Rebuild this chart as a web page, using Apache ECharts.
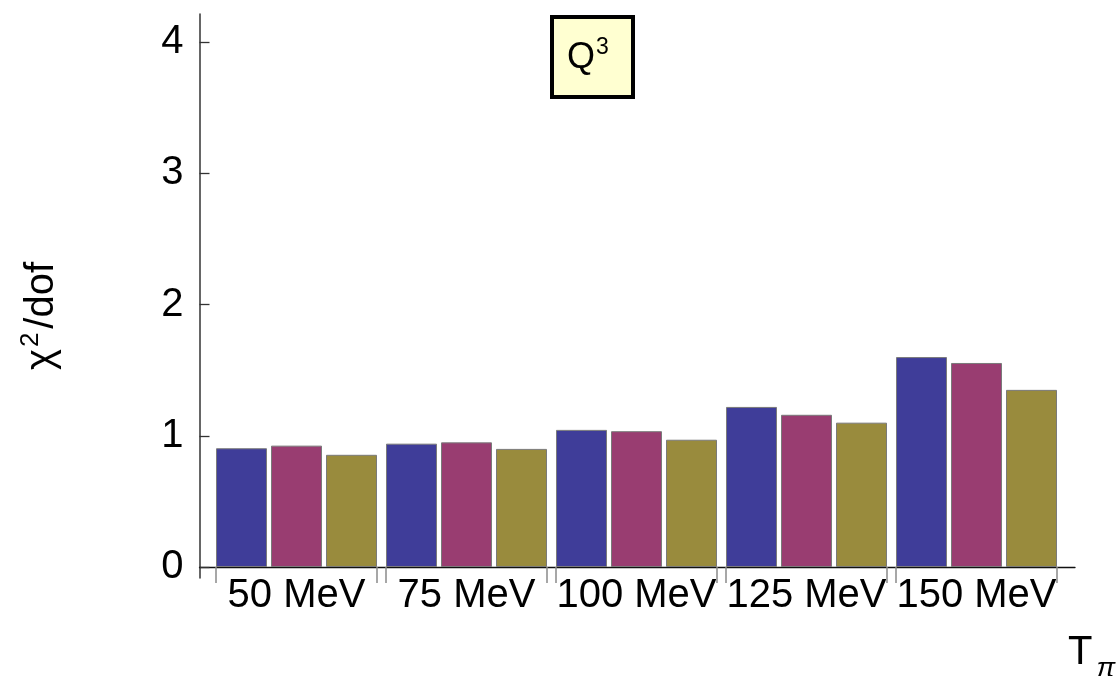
<!DOCTYPE html>
<html>
<head>
<meta charset="utf-8">
<script src="https://cdn.jsdelivr.net/npm/echarts@6/dist/echarts.min.js"></script>
<style>
html,body{margin:0;padding:0;background:#fff;}
#chart{width:1118px;height:676px;}
</style>
</head>
<body>
<div id="chart"></div>
<script>
const categories = ['50 MeV', '75 MeV', '100 MeV', '125 MeV', '150 MeV'];
const seriesA = [0.905, 0.94, 1.045, 1.22, 1.60];
const seriesB = [0.925, 0.95, 1.035, 1.16, 1.555];
const seriesC = [0.855, 0.90, 0.97, 1.10, 1.35];
const yTicks = [0, 1, 2, 3, 4];

const FONT = 'Liberation Sans, Arial, sans-serif';
const colors = ['#3F3D99', '#993D71', '#998B3D'];
const BAR_W = 51;
const BAR_GAP_PX = 4;
const Y_MIN = -0.084, Y_MAX = 4.215;

const chart = echarts.init(document.getElementById('chart'), null, {renderer: 'canvas'});

function barSeries(name, data, color) {
  return {
    name: name, type: 'bar', xAxisIndex: 1, yAxisIndex: 1,
    data: data, barWidth: BAR_W, barGap: (BAR_GAP_PX / BAR_W * 100) + '%',
    itemStyle: {color: color, borderColor: '#7a7a7a', borderWidth: 1},
    silent: true
  };
}

const option = {
  animation: false,
  backgroundColor: '#ffffff',
  title: {
    text: '{q|Q}{s|3}',
    left: 552, top: 17,
    padding: [13, 24, 21, 15],
    backgroundColor: '#FFFFD1',
    borderColor: '#000000',
    borderWidth: 4,
    textStyle: {
      fontFamily: FONT, fontSize: 34, fontWeight: 'normal', color: '#000',
      rich: {
        q: {fontFamily: FONT, fontSize: 36, fontWeight: 'normal', color: '#000', lineHeight: 46, verticalAlign: 'bottom'},
        s: {fontFamily: FONT, fontSize: 23, fontWeight: 'normal', color: '#000', lineHeight: 30, verticalAlign: 'top', padding: [6, 0, 0, 1]}
      }
    }
  },
  grid: [
    {left: 199.5, right: 43, top: 14, bottom: 98, outerBoundsMode: 'none', containLabel: false},
    {left: 211.5, right: 56.5, top: 14, bottom: 98, outerBoundsMode: 'none', containLabel: false}
  ],
  xAxis: [
    {
      type: 'value', gridIndex: 0, min: 0, max: 1,
      axisLine: {show: true, onZero: true, lineStyle: {color: '#111', width: 1.3}},
      axisTick: {show: false}, axisLabel: {show: false}, splitLine: {show: false},
      name: '{t|T}{p|π}',
      nameLocation: 'end',
      nameGap: -7,
      nameTextStyle: {
        align: 'left', verticalAlign: 'top', padding: [66, 0, 0, 0],
        rich: {
          t: {fontFamily: FONT, fontSize: 40, color: '#000', lineHeight: 44, verticalAlign: 'top'},
          p: {fontFamily: FONT, fontSize: 28, fontStyle: 'italic', color: '#000', lineHeight: 50, verticalAlign: 'bottom', padding: [0, 0, 0, 4]}
        }
      }
    },
    {
      type: 'category', gridIndex: 1, data: categories,
      axisLine: {show: false, onZero: true},
      axisTick: {show: false},
      axisLabel: {fontFamily: FONT, fontSize: 40, color: '#000', margin: -2, interval: 0},
      splitLine: {show: false}
    }
  ],
  yAxis: [
    {
      type: 'value', gridIndex: 0, min: Y_MIN, max: Y_MAX,
      axisLine: {show: true, lineStyle: {color: '#333', width: 1.5}},
      axisTick: {show: true, inside: true, length: 10, customValues: yTicks, lineStyle: {color: '#333', width: 1.3}},
      axisLabel: {customValues: yTicks, fontFamily: FONT, fontSize: 40, color: '#000', margin: 16},
      splitLine: {show: false},
      name: '{c|χ}{s|2}{d|/dof}',
      nameLocation: 'middle',
      nameRotate: 90,
      nameGap: 138,
      nameTextStyle: {
        padding: [0, 40, 0, 0],
        rich: {
          c: {fontFamily: FONT, fontSize: 40, color: '#000', lineHeight: 44, verticalAlign: 'bottom', padding: [0, 2, 0, 0]},
          s: {fontFamily: FONT, fontSize: 26, color: '#000', lineHeight: 44, verticalAlign: 'top', padding: [0, 4, 0, 0]},
          d: {fontFamily: FONT, fontSize: 40, color: '#000', lineHeight: 44, verticalAlign: 'bottom'}
        }
      }
    },
    {
      type: 'value', gridIndex: 1, min: Y_MIN, max: Y_MAX,
      show: false, splitLine: {show: false}
    }
  ],
  series: [
    barSeries('A', seriesA, colors[0]),
    barSeries('B', seriesB, colors[1]),
    barSeries('C', seriesC, colors[2]),
    {
      type: 'custom', xAxisIndex: 1, yAxisIndex: 1, silent: true, clip: false,
      data: categories.map((c, i) => [i, 0]),
      renderItem: function (params, api) {
        const p = api.coord([api.value(0), 0]);
        const half = (3 * BAR_W + 2 * BAR_GAP_PX) / 2;
        const len = 16;
        const style = {stroke: '#8a8a8a', lineWidth: 1.5};
        return {
          type: 'group',
          children: [
            {type: 'line', shape: {x1: p[0] - half, y1: p[1], x2: p[0] - half, y2: p[1] + len}, style: style},
            {type: 'line', shape: {x1: p[0] + half, y1: p[1], x2: p[0] + half, y2: p[1] + len}, style: style}
          ]
        };
      }
    }
  ]
};
chart.setOption(option);
</script>
</body>
</html>
